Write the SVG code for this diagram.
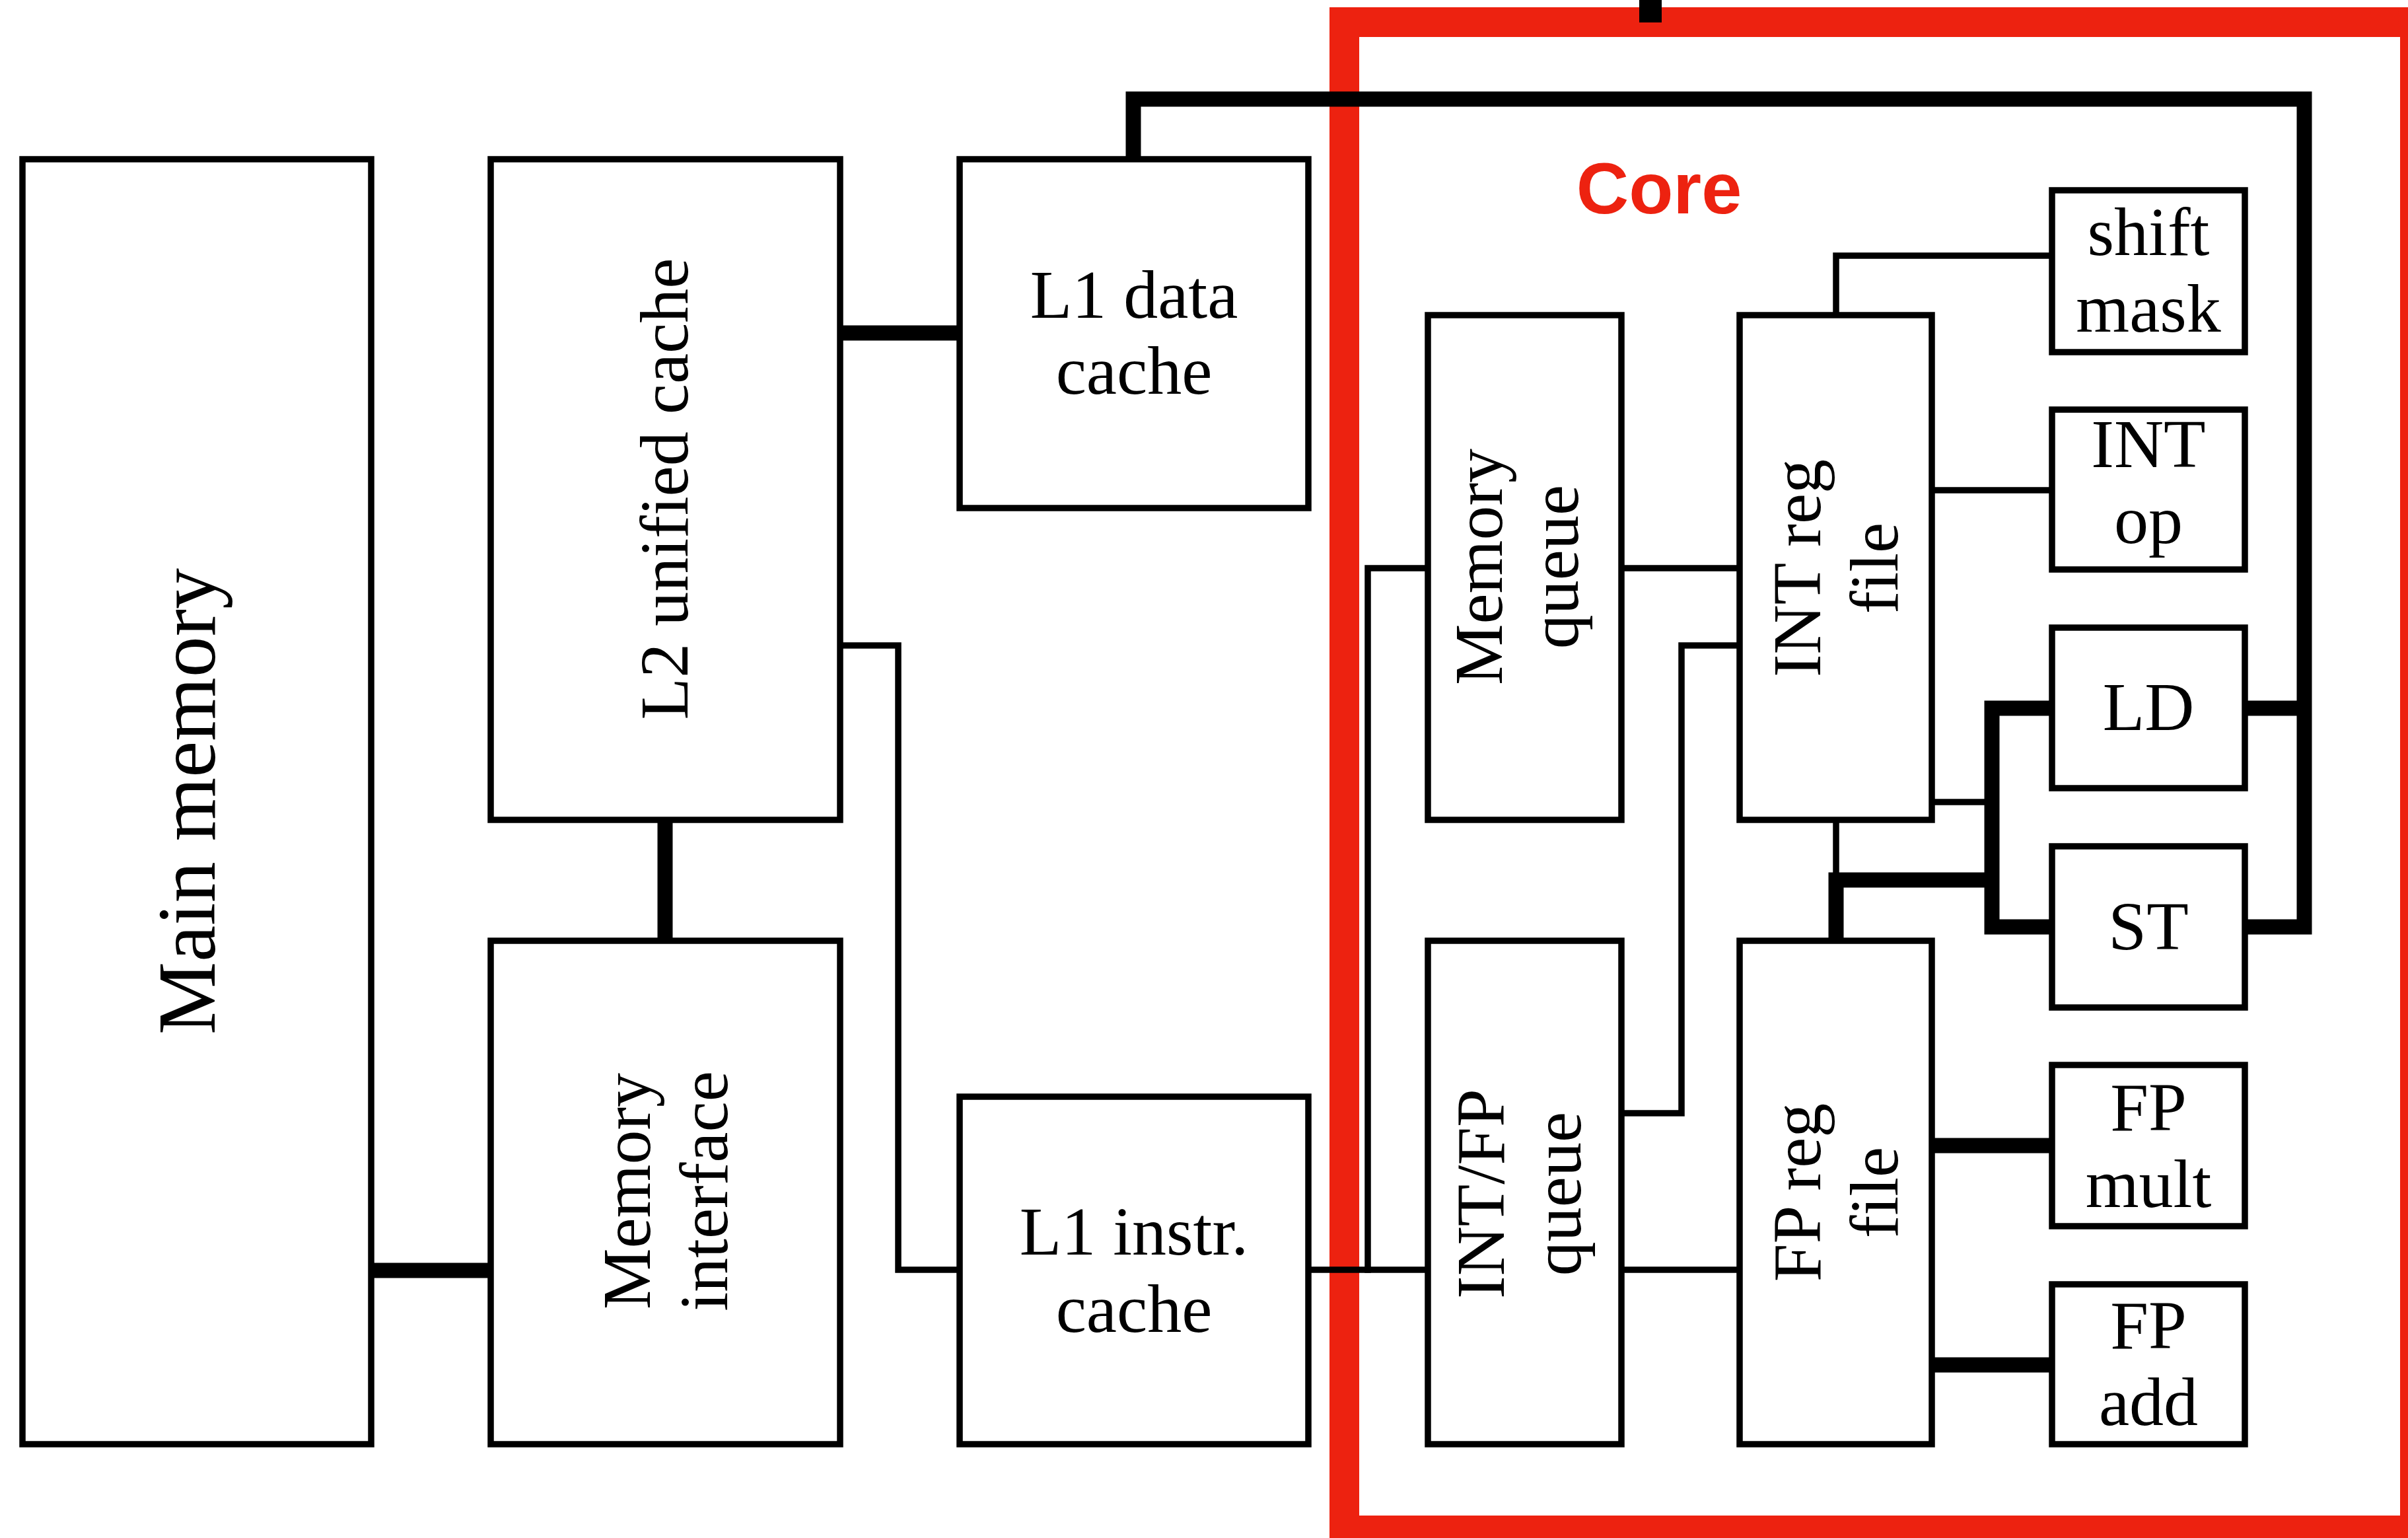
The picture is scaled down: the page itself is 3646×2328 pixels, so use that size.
<svg xmlns="http://www.w3.org/2000/svg" width="3646" height="2328" viewBox="0 0 3646 2328">
<style>
.box{fill:#fff;stroke:#000;stroke-width:9.5}
.thin{fill:none;stroke:#000;stroke-width:9.5;stroke-linejoin:miter;stroke-linecap:square}
.thick{fill:none;stroke:#000;stroke-width:23;stroke-linejoin:miter;stroke-linecap:butt}
.lbl{font-family:"Liberation Serif","Times New Roman",serif;font-size:104px;fill:#000;text-anchor:middle}
.big{font-size:124px}
.core{font-family:"Liberation Sans",Arial,sans-serif;font-weight:bold;font-size:110px;fill:#ED2210;text-anchor:middle}
</style>
<rect width="3646" height="2328" fill="#fff"/>
<g id="core">
<rect x="2035.5" y="33.5" width="1621" height="2283" fill="none" stroke="#ED2210" stroke-width="45"/>
<text class="core" x="2512" y="323">Core</text>
</g>
<g id="connectors">
<path class="thin" d="M1272 977 H1360 V1922 H1453"/>
<path class="thin" d="M1981 1922 H2162"/>
<path class="thin" d="M2071 1922 V860 H2162"/>
<path class="thin" d="M2455 860 H2634"/>
<path class="thin" d="M2455 1685 H2546 V977 H2634"/>
<path class="thin" d="M2455 1922 H2634"/>
<path class="thin" d="M2780 477 V387 H3107"/>
<path class="thin" d="M2925 742 H3107"/>
<path class="thin" d="M2925 1214 H3016"/>
<path class="thin" d="M2780 1241 V1320"/>
<path class="thick" d="M2780 1424 V1332 H3016"/>
<path class="thick" d="M1272 504 H1453"/>
<path class="thick" d="M1007 1241 V1424"/>
<path class="thick" d="M562 1923 H743"/>
<path class="thick" d="M1716 241 V150 H3489 V1403 H3399"/>
<path class="thick" d="M3399 1072 H3489"/>
<path class="thick" d="M3107 1072 H3016 V1403 H3107"/>
<path class="thick" d="M2925 1734 H3107"/>
<path class="thick" d="M2925 2066 H3107"/>
<path d="M2499 0 V34" fill="none" stroke="#000" stroke-width="34"/>
</g>
<g id="main-memory">
<rect class="box" x="34" y="241" width="528" height="1945"/>
<text class="lbl big" transform="translate(325,1213) rotate(-90)">Main memory</text>
</g>
<g id="l2-cache">
<rect class="box" x="743" y="241" width="529" height="1000"/>
<text class="lbl" transform="translate(1041,740) rotate(-90)">L2 unified cache</text>
</g>
<g id="memory-interface">
<rect class="box" x="743" y="1424" width="529" height="762"/>
<text class="lbl" transform="translate(984,1803) rotate(-90)"><tspan x="0" y="0">Memory</tspan><tspan x="0" y="117">interface</tspan></text>
</g>
<g id="l1-data-cache">
<rect class="box" x="1453" y="241" width="528" height="528"/>
<text class="lbl"><tspan x="1717" y="481">L1 data</tspan><tspan x="1717" y="596">cache</tspan></text>
</g>
<g id="l1-instr-cache">
<rect class="box" x="1453" y="1660" width="528" height="526"/>
<text class="lbl"><tspan x="1717" y="1899">L1 instr.</tspan><tspan x="1717" y="2016">cache</tspan></text>
</g>
<g id="memory-queue">
<rect class="box" x="2162" y="477" width="293" height="764"/>
<text class="lbl" transform="translate(2274,858) rotate(-90)"><tspan x="0" y="0">Memory</tspan><tspan x="0" y="115">queue</tspan></text>
</g>
<g id="intfp-queue">
<rect class="box" x="2162" y="1424" width="293" height="762"/>
<text class="lbl" transform="translate(2277,1807) rotate(-90)"><tspan x="0" y="0">INT/FP</tspan><tspan x="0" y="116">queue</tspan></text>
</g>
<g id="int-reg-file">
<rect class="box" x="2634" y="477" width="291" height="764"/>
<text class="lbl" transform="translate(2756,860) rotate(-90)"><tspan x="0" y="0">INT reg</tspan><tspan x="0" y="117">file</tspan></text>
</g>
<g id="fp-reg-file">
<rect class="box" x="2634" y="1424" width="291" height="762"/>
<text class="lbl" transform="translate(2756,1805) rotate(-90)"><tspan x="0" y="0">FP reg</tspan><tspan x="0" y="117">file</tspan></text>
</g>
<g id="shift-mask">
<rect class="box" x="3107" y="288" width="292" height="245"/>
<text class="lbl"><tspan x="3253" y="386">shift</tspan><tspan x="3253" y="502">mask</tspan></text>
</g>
<g id="int-op">
<rect class="box" x="3107" y="620" width="292" height="242"/>
<text class="lbl"><tspan x="3253" y="707">INT</tspan><tspan x="3253" y="822">op</tspan></text>
</g>
<g id="ld">
<rect class="box" x="3107" y="950" width="292" height="243"/>
<text class="lbl" x="3253" y="1105">LD</text>
</g>
<g id="st">
<rect class="box" x="3107" y="1281" width="292" height="244"/>
<text class="lbl" x="3253" y="1437">ST</text>
</g>
<g id="fp-mult">
<rect class="box" x="3107" y="1612" width="292" height="244"/>
<text class="lbl"><tspan x="3253" y="1711">FP</tspan><tspan x="3253" y="1827">mult</tspan></text>
</g>
<g id="fp-add">
<rect class="box" x="3107" y="1944" width="292" height="242"/>
<text class="lbl"><tspan x="3253" y="2041">FP</tspan><tspan x="3253" y="2157">add</tspan></text>
</g>
</svg>
